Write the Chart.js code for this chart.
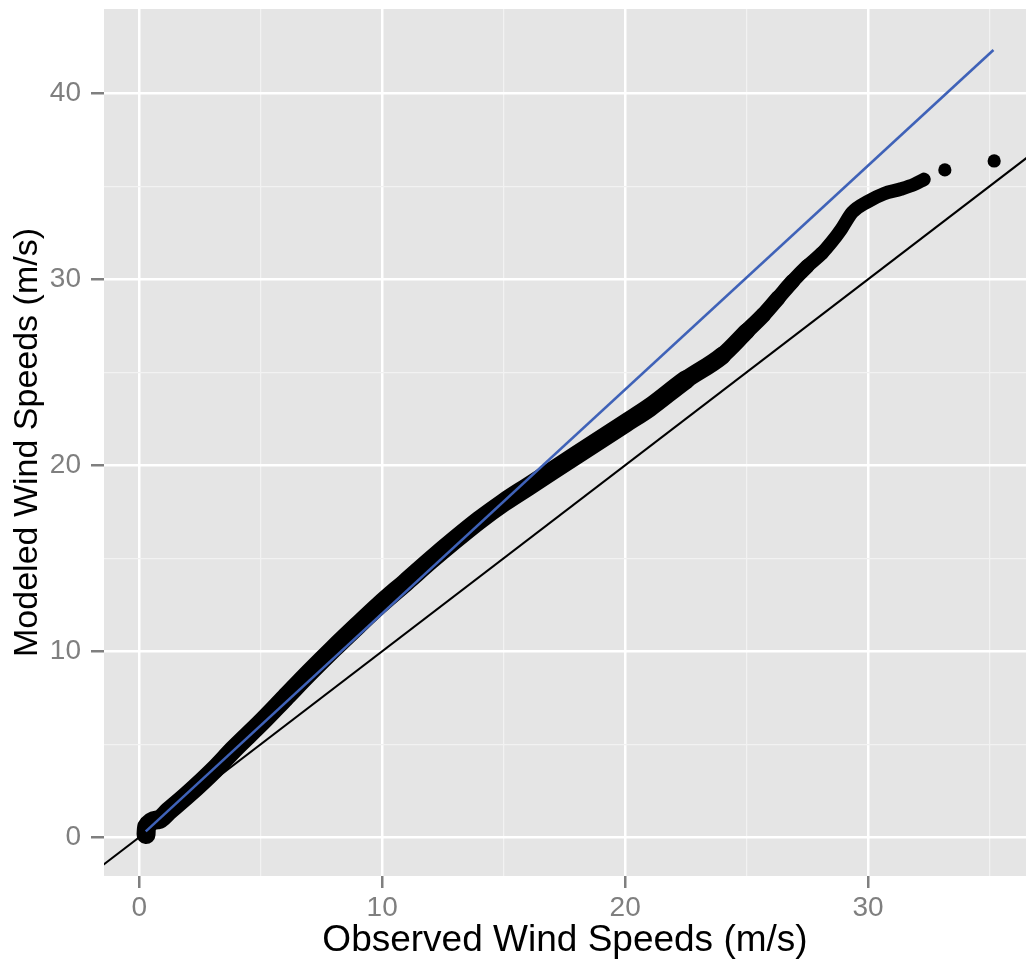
<!DOCTYPE html>
<html>
<head>
<meta charset="utf-8">
<script src="https://cdn.jsdelivr.net/npm/chart.js@4.4.1/dist/chart.umd.min.js"></script>
<style>
  html, body { margin: 0; padding: 0; background: #fff; }
  #wrap { width: 1026px; height: 959px; position: relative; }
</style>
</head>
<body>
<div id="wrap"><canvas id="qq"></canvas></div>
<script>
const obsQuantiles = [0.28, 0.30, 0.8, 1.2, 2.0, 3.1, 3.9, 5.0, 6.0, 7.0, 8.0, 9.0, 9.9, 11.0, 12.0, 13.0, 14.0, 15.0, 16.0, 17.0, 18.0, 19.0, 20.0, 21.0, 22.5, 24.0, 25.0, 25.7, 26.3, 26.9, 27.5, 28.1, 28.5, 28.9, 29.35, 29.95, 30.65, 31.35, 31.9, 32.3];
const modQuantiles = [0.15, 0.55, 0.95, 1.4, 2.3, 3.65, 4.75, 6.15, 7.5, 8.85, 10.15, 11.4, 12.5, 13.75, 14.9, 16.0, 17.05, 18.0, 18.85, 19.7, 20.55, 21.4, 22.25, 23.1, 24.6, 25.9, 27.2, 28.1, 29.0, 29.9, 30.7, 31.4, 32.0, 32.7, 33.6, 34.15, 34.6, 34.85, 35.1, 35.37];

// Isolated top quantiles
const tailObs = [33.16, 35.19];
const tailMod = [35.88, 36.36];

// Fitted line (start and end)
const fitObs = [0.27, 35.16];
const fitMod = [0.32, 42.33];

// 1:1 reference line, clipped to the panel
const oneToOne = [-5, 40];

const xMajorTicks = [0, 10, 20, 30];
const xMinorTicks = [5, 15, 25, 35];
const yMajorTicks = [0, 10, 20, 30, 40];
const yMinorTicks = [5, 15, 25, 35];

const toPoints = (xs, ys) => xs.map((x, i) => ({ x: x, y: ys[i] }));

// Grey ggplot-like panel behind everything
const panelBg = {
    id: 'panelBg',
    beforeDraw(chart) {
        const { ctx, chartArea: a } = chart;
        ctx.save();
        ctx.fillStyle = '#E5E5E5';
        ctx.fillRect(a.left, a.top, a.right - a.left, a.bottom - a.top);
        ctx.restore();
    }
};

function gridFor(major) {
    return {
        color: c => major.includes(c.tick.value) ? '#FFFFFF' : '#F2F2F2',
        lineWidth: c => major.includes(c.tick.value) ? 2.5 : 1.2,
        tickColor: c => major.includes(c.tick.value) ? '#7F7F7F' : 'rgba(0,0,0,0)',
        tickWidth: 2.5,
        drawTicks: true
    };
}

// band is thicker where the points are dense, thinner in the upper tail
function bandWidth(c) {
    const x = c.p0.parsed.x;
    if (x <= 21) return 19;
    if (x >= 28) return 13.5;
    return 19 - (x - 21) * 5.5 / 7;
}

Chart.defaults.font.family = "'Liberation Sans', Arial, sans-serif";

new Chart(document.getElementById('qq'), {
    type: 'scatter',
    data: {
        datasets: [
            {
                // fitted line on top
                type: 'line',
                data: toPoints(fitObs, fitMod),
                borderColor: '#3F62B8',
                borderWidth: 2.6,
                pointRadius: 0,
                fill: false
            },
            {
                type: 'line',
                data: toPoints(oneToOne, oneToOne),
                borderColor: '#000000',
                borderWidth: 2,
                pointRadius: 0,
                fill: false
            },
            {
                // dense band of quantile points
                type: 'line',
                data: toPoints(obsQuantiles, modQuantiles),
                borderColor: '#000000',
                borderCapStyle: 'round',
                borderJoinStyle: 'round',
                cubicInterpolationMode: 'monotone',
                pointRadius: 0,
                fill: false,
                segment: { borderWidth: bandWidth }
            },
            {
                type: 'scatter',
                data: toPoints(tailObs, tailMod),
                backgroundColor: '#000000',
                borderColor: '#000000',
                pointRadius: 6.6,
                borderWidth: 0
            }
        ]
    },
    options: {
        responsive: true,
        maintainAspectRatio: false,
        animation: false,
        layout: { autoPadding: false, padding: { top: 9, right: 0, left: 0, bottom: 0 } },
        plugins: {
            legend: { display: false },
            tooltip: { enabled: false }
        },
        scales: {
            x: {
                type: 'linear',
                min: -1.45,
                max: 36.5,
                afterBuildTicks: s => { s.ticks = xMajorTicks.concat(xMinorTicks).sort((a, b) => a - b).map(v => ({ value: v })); },
                afterFit: s => { s.height = 83; s.paddingLeft = 0; s.paddingRight = 0; },
                border: { display: false },
                grid: Object.assign(gridFor(xMajorTicks), { tickLength: 12 }),
                ticks: {
                    color: '#7F7F7F',
                    font: { size: 28 },
                    padding: 3,
                    maxRotation: 0,
                    autoSkip: false,
                    callback: v => xMajorTicks.includes(v) ? String(v) : ''
                },
                title: {
                    display: true,
                    text: 'Observed Wind Speeds (m/s)',
                    color: '#000000',
                    font: { size: 37, lineHeight: 1 },
                    padding: { top: 0, bottom: 0 }
                }
            },
            y: {
                type: 'linear',
                min: -2.08,
                max: 44.53,
                afterBuildTicks: s => { s.ticks = yMajorTicks.concat(yMinorTicks).sort((a, b) => a - b).map(v => ({ value: v })); },
                afterFit: s => { s.width = 104; s.paddingTop = 0; s.paddingBottom = 0; },
                border: { display: false },
                grid: Object.assign(gridFor(yMajorTicks), { tickLength: 13 }),
                ticks: {
                    color: '#7F7F7F',
                    font: { size: 28 },
                    padding: 10,
                    autoSkip: false,
                    callback: v => yMajorTicks.includes(v) ? String(v) : ''
                },
                title: {
                    display: true,
                    text: 'Modeled Wind Speeds (m/s)',
                    color: '#000000',
                    font: { size: 34, lineHeight: 1 },
                    padding: { top: 11, bottom: 0 }
                }
            }
        }
    },
    plugins: [panelBg]
});
</script>
</body>
</html>
